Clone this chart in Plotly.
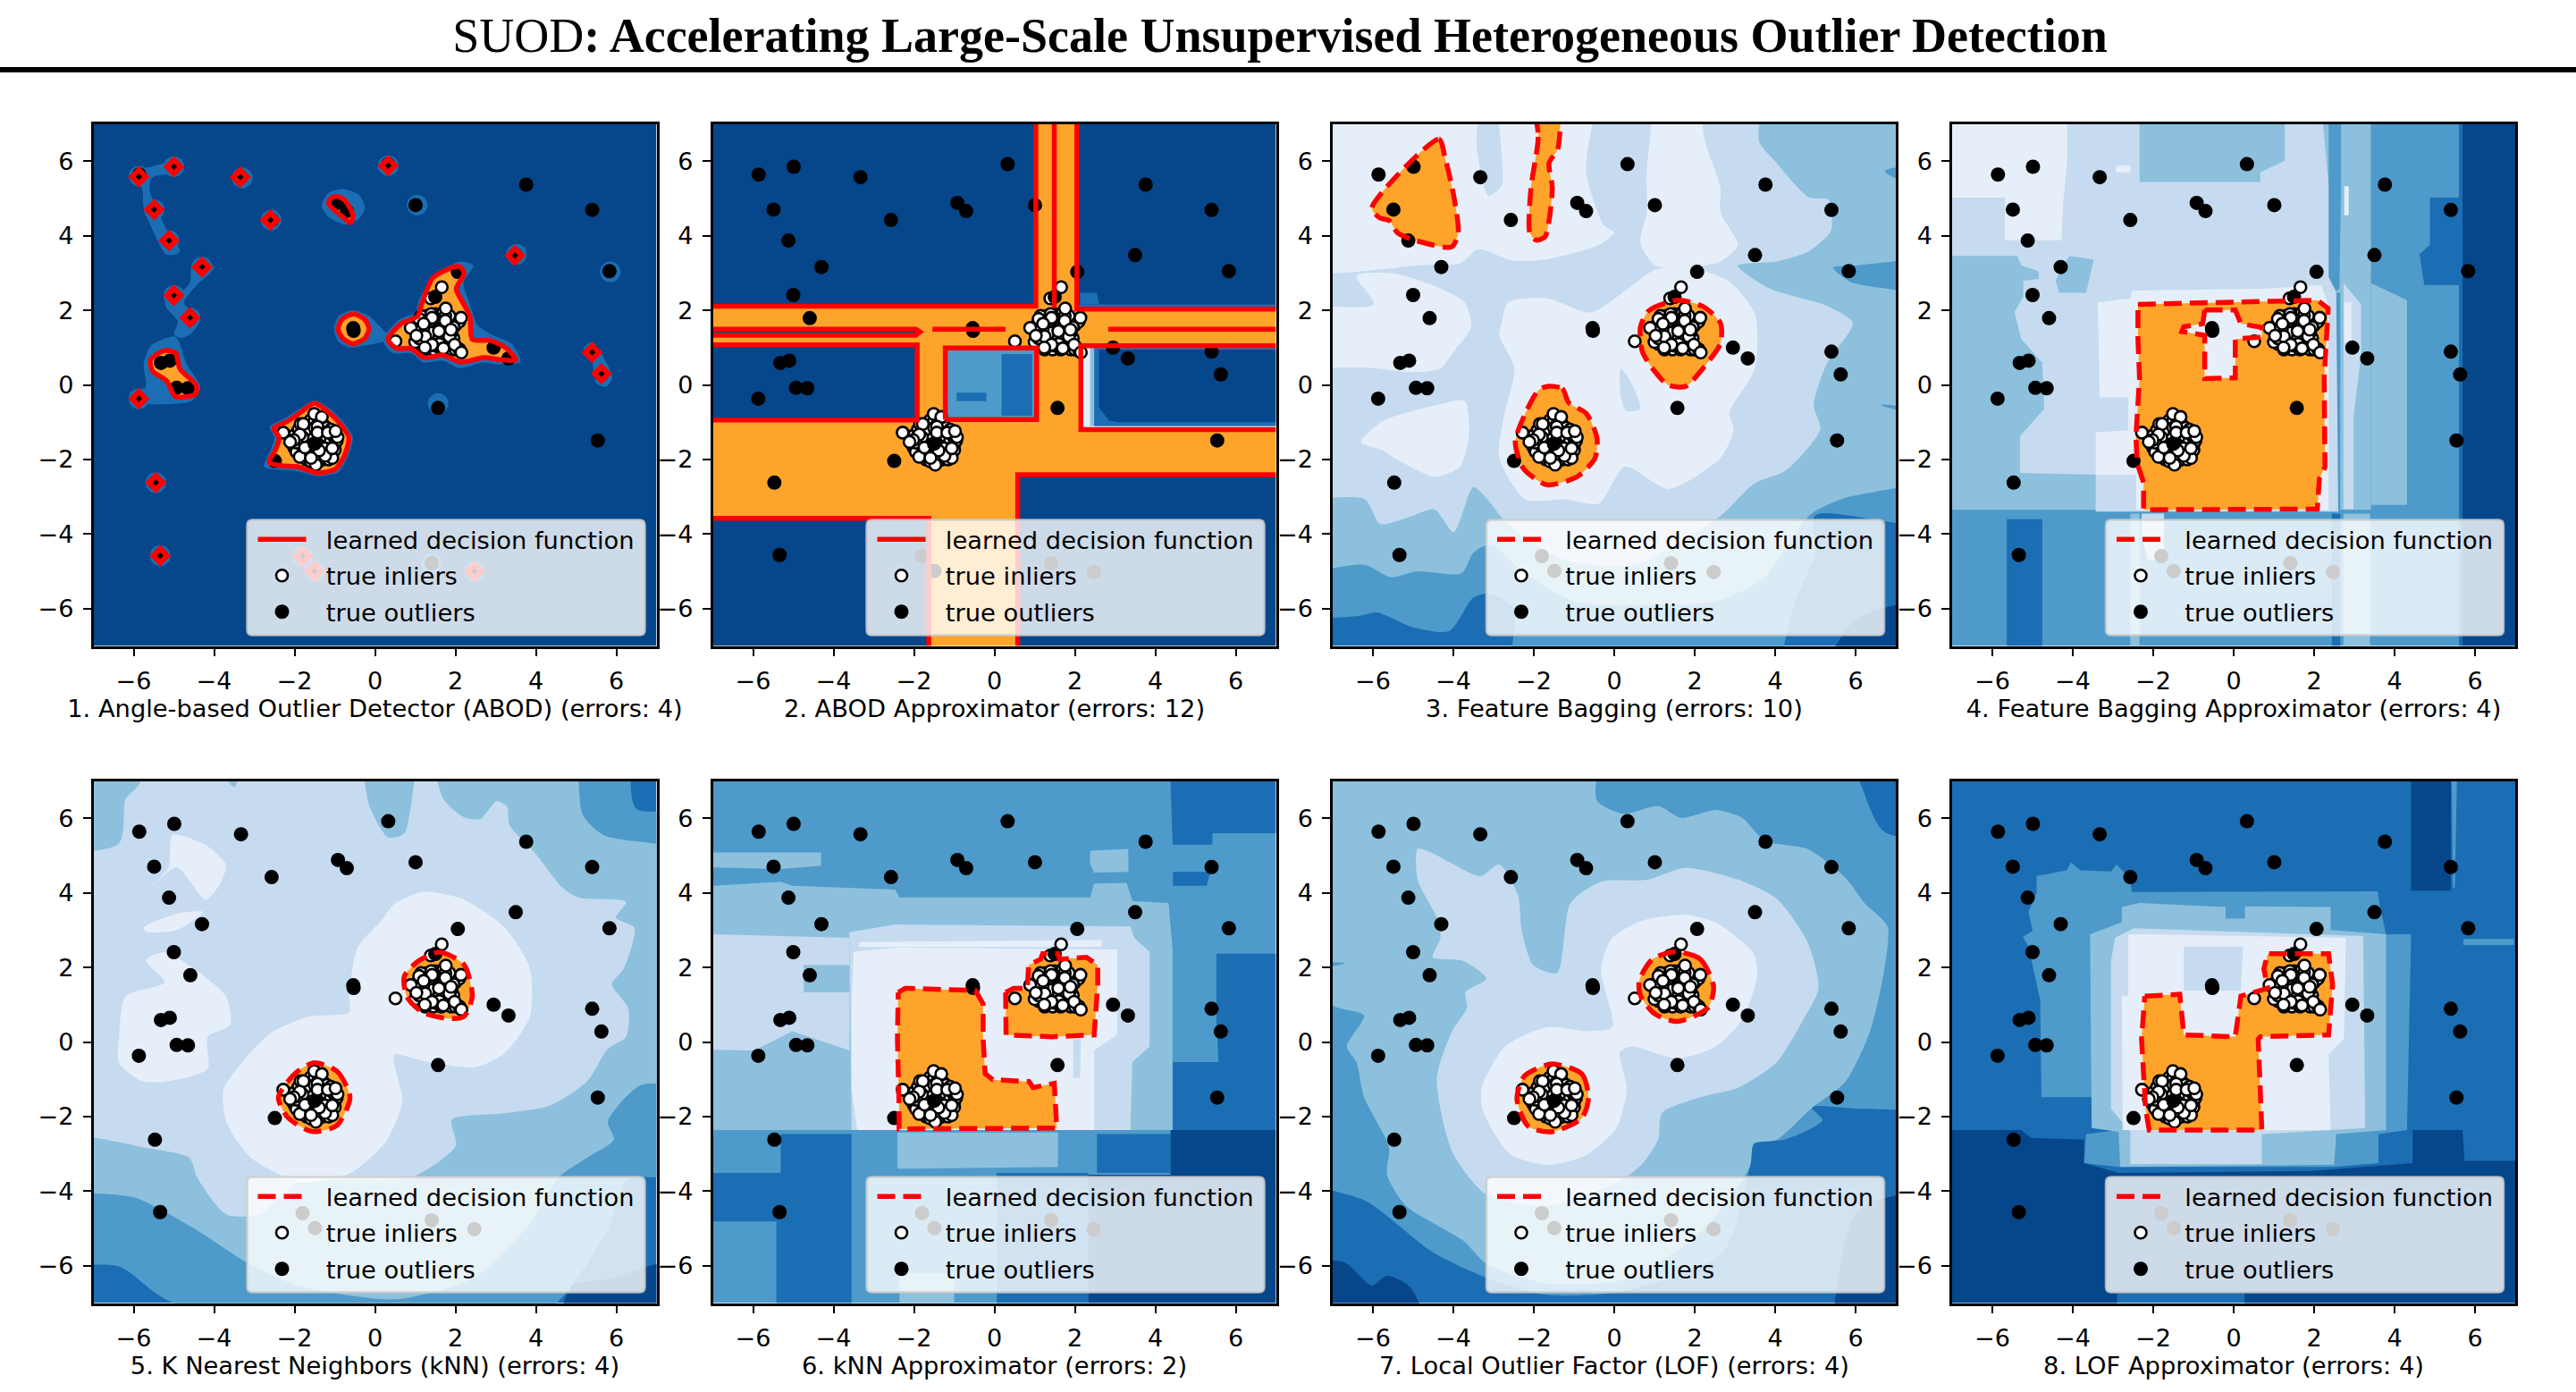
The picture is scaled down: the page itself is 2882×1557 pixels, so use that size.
import plotly.graph_objects as go

WIDTH, HEIGHT = 2882, 1557
TITLE_PLAIN = "SUOD"
TITLE_BOLD = ": Accelerating Large-Scale Unsupervised Heterogeneous Outlier Detection"
PANEL_TITLES = [
    "1. Angle-based Outlier Detector (ABOD) (errors: 4)",
    "2. ABOD Approximator (errors: 12)",
    "3. Feature Bagging (errors: 10)",
    "4. Feature Bagging Approximator (errors: 4)",
    "5. K Nearest Neighbors (kNN) (errors: 4)",
    "6. kNN Approximator (errors: 2)",
    "7. Local Outlier Factor (LOF) (errors: 4)",
    "8. LOF Approximator (errors: 4)",
]
TICKS = [-6, -4, -2, 0, 2, 4, 6]
FULL = [(-7, -7), (7, -7), (7, 7), (-7, 7)]

OUTLIERS = [
    (-5.86, 5.64), (-4.99, 5.85), (-3.33, 5.57), (0.33, 5.92), (-0.92, 4.88), (-0.70, 4.66), (1.01, 4.82),
    (3.76, 5.37), (5.40, 4.69), (-5.49, 4.70), (-2.57, 4.42), (-5.12, 3.87), (-4.30, 3.16), (3.50, 3.48),
    (5.83, 3.05), (2.06, 3.03), (-5.0, 2.41), (-4.59, 1.79), (-0.54, 1.52), (-0.53, 1.45), (-5.32, 0.59),
    (-5.10, 0.65), (-4.93, -0.08), (-4.65, -0.09), (-5.87, -0.37), (2.95, 1.0), (3.32, 0.71), (5.40, 0.89),
    (5.63, 0.28), (1.57, -0.62), (5.54, -1.49), (-2.49, -2.04), (-5.47, -2.62), (-5.34, -4.56), (-1.80, -4.59),
    (-1.49, -4.99), (1.41, -4.78), (2.47, -5.02), (1.5, 2.36), (-1.5, -1.58),
]
INLIERS_TOP = [
    (1.3, 1.5), (1.4, 1.6), (1.5, 1.45), (1.6, 1.55), (1.7, 1.4), (1.8, 1.6), (1.55, 1.25), (1.45, 1.15),
    (1.65, 1.2), (1.75, 1.05), (1.35, 1.2), (1.2, 1.2), (1.1, 1.1), (1.3, 1.85), (1.5, 1.9), (1.6, 1.75),
    (1.9, 1.7), (2.0, 1.6), (2.05, 1.75), (1.95, 1.25), (1.85, 1.15), (1.55, 1.0), (1.45, 0.95), (1.9, 0.95),
    (2.0, 0.95), (1.15, 1.45), (1.0, 1.15), (1.25, 1.7), (1.15, 1.85), (1.65, 1.85), (1.7, 1.95), (1.85, 1.85),
    (1.4, 1.4), (1.55, 1.65), (1.75, 1.3), (1.3, 1.05), (1.65, 0.95), (1.9, 1.4), (2.1, 1.7), (2.1, 0.95),
    (1.1, 1.25), (1.6, 1.3), (1.45, 1.75), (1.35, 1.7), (1.8, 1.5), (1.2, 1.5), (1.95, 1.55), (1.5, 1.05),
    (1.85, 1.3), (1.75, 1.85), (1.25, 0.95), (1.7, 1.7), (1.05, 1.6), (1.4, 1.9), (1.6, 1.1), (1.28, 1.72),
    (1.66, 2.62), (1.39, 2.32), (1.76, 2.05), (2.14, 1.80), (0.89, 1.53), (1.42, 1.80), (1.75, 1.72),
    (1.10, 1.77), (1.21, 1.64), (1.59, 1.44), (1.25, 1.30), (1.42, 1.08), (1.03, 1.32), (1.24, 1.0),
    (1.70, 0.98), (1.98, 1.08), (2.15, 0.87), (1.89, 1.48), (0.51, 1.17),
]
INLIERS_BOTTOM = [
    (-1.6, -1.2), (-1.5, -1.3), (-1.4, -1.4), (-1.3, -1.5), (-1.2, -1.6), (-1.6, -1.5), (-1.7, -1.4),
    (-1.5, -1.7), (-1.4, -1.8), (-1.3, -1.3), (-1.2, -1.4), (-1.1, -1.5), (-1.0, -1.6), (-1.7, -1.7),
    (-1.8, -1.6), (-1.9, -1.5), (-1.6, -1.9), (-1.5, -2.0), (-1.3, -2.0), (-1.2, -1.8), (-1.1, -1.8),
    (-2.0, -1.7), (-2.05, -1.6), (-1.95, -1.8), (-1.8, -1.85), (-1.7, -2.0), (-1.6, -2.05), (-1.4, -2.05),
    (-1.7, -1.1), (-1.6, -0.95), (-1.5, -0.95), (-1.4, -1.0), (-1.3, -1.05), (-1.2, -1.15), (-1.1, -1.2),
    (-1.05, -1.35), (-0.95, -1.5), (-1.0, -1.75), (-1.15, -2.0), (-2.0, -1.35), (-1.9, -1.2), (-1.85, -1.05),
    (-1.55, -1.6), (-1.45, -1.55), (-1.35, -1.65), (-1.25, -1.7), (-1.65, -1.3), (-1.75, -1.25), (-1.8, -1.4),
    (-1.95, -1.55), (-1.5, -1.15), (-1.4, -1.2),
    (-1.51, -0.78), (-1.32, -0.86), (-1.78, -1.05), (-2.28, -1.28), (-1.87, -1.33), (-0.93, -1.40),
    (-2.02, -1.48), (-2.11, -1.53), (-1.87, -1.93), (-1.47, -2.14), (-1.06, -1.96), (-1.24, -1.90),
    (-1.06, -1.70), (-1.43, -1.12), (-1.43, -1.28), (-1.17, -1.28), (-1.39, -1.76), (-1.59, -1.96),
    (-1.74, -1.68), (-0.98, -1.24),
]

# ---- panel 1: ABOD
P1_HALOS = [
    [(-6.05, 5.72), (-5.55, 5.85), (-4.9, 6.02), (-4.75, 5.85), (-5.05, 5.68), (-5.55, 5.55), (-5.6, 5.2), (-5.35, 4.55),
     (-5.1, 4.0), (-4.85, 3.6), (-4.95, 3.5), (-5.2, 3.5), (-5.35, 3.75), (-5.55, 4.2), (-5.75, 4.75), (-5.8, 5.3), (-6.05, 5.45)],
    [(-5.2, 2.45), (-5.0, 2.6), (-4.75, 2.55), (-4.6, 2.75), (-4.55, 3.25), (-4.3, 3.4), (-4.0, 3.15), (-4.25, 2.85),
     (-4.45, 2.65), (-4.75, 2.2), (-4.35, 1.75), (-4.55, 1.4), (-4.8, 1.25), (-5.0, 1.35), (-4.9, 1.7), (-5.2, 2.1)],
    [(-5.75, 0.55), (-5.58, 1.04), (-4.96, 1.29), (-4.68, 0.55), (-4.34, -0.06), (-4.56, -0.43), (-5.92, -0.49), (-6.1, -0.37), (-5.7, -0.06)],
    [(-0.8, 5.25), (-0.4, 5.1), (-0.25, 4.75), (-0.4, 4.45), (-0.75, 4.3), (-1.15, 4.5), (-1.33, 4.8), (-1.15, 5.15)],
    [(-0.55, 2.0), (-0.15, 1.85), (0.05, 1.65), (0.35, 1.25), (0.0, 1.1), (-0.3, 1.05), (-0.6, 1.0), (-0.9, 1.15), (-1.02, 1.5), (-0.9, 1.85)],
    [(1.5, 2.95), (2.1, 3.3), (2.45, 3.2), (2.2, 2.75), (2.35, 2.2), (2.55, 1.6), (2.9, 1.35), (3.4, 1.1), (3.62, 0.62),
     (3.1, 0.55), (2.7, 0.6), (2.1, 0.45), (1.7, 0.65), (1.2, 0.6), (0.9, 0.85), (0.45, 0.85), (0.2, 1.2), (0.6, 1.75), (1.0, 1.95), (1.1, 2.3)],
    [(-1.5, -0.42), (-1.1, -0.65), (-0.78, -1.0), (-0.55, -1.4), (-0.68, -1.95), (-0.92, -2.35), (-1.44, -2.45), (-1.9, -2.32),
     (-2.35, -2.28), (-2.75, -2.2), (-2.58, -1.7), (-2.5, -1.4), (-2.62, -1.12), (-2.25, -0.9), (-1.88, -0.65)],
    [(5.2, 1.0), (5.4, 1.15), (5.6, 0.9), (5.9, 0.2), (5.75, -0.05), (5.5, 0.05), (5.4, 0.6)],
]
P1_ORANGE = [
    [(0.32, 1.22), (0.66, 1.65), (1.06, 1.84), (1.17, 2.20), (1.45, 2.88), (2.08, 3.18), (2.22, 3.0), (2.02, 2.57), (2.19, 2.2),
     (2.36, 1.84), (2.42, 1.22), (2.87, 1.19), (3.27, 0.98), (3.5, 0.67), (3.16, 0.67), (2.7, 0.73), (2.13, 0.61), (1.68, 0.8),
     (1.23, 0.73), (0.89, 0.98), (0.54, 0.98)],
    [(-1.50, -0.49), (-1.16, -0.73), (-0.87, -1.04), (-0.65, -1.41), (-0.76, -1.90), (-0.99, -2.26), (-1.44, -2.36), (-1.90, -2.20),
     (-2.29, -2.17), (-2.63, -2.08), (-2.46, -1.71), (-2.38, -1.41), (-2.52, -1.16), (-2.18, -0.98), (-1.84, -0.73)],
    [(-5.58, 0.67), (-5.24, 0.92), (-4.96, 0.86), (-4.85, 0.43), (-4.45, 0), (-4.45, -0.24), (-4.96, -0.31), (-5.19, 0.12), (-5.53, 0.37)],
    [(-0.53, 1.9), (-0.25, 1.75), (-0.15, 1.5), (-0.25, 1.25), (-0.55, 1.1), (-0.8, 1.25), (-0.92, 1.5), (-0.8, 1.78)],
    [(-0.95, 5.05), (-0.75, 4.95), (-0.55, 4.55), (-0.6, 4.35), (-0.8, 4.5), (-1.15, 4.85), (-1.1, 5.0)],
]
P1_HALO_POINTS = [(-5.86, 5.6), (-5, 5.85), (-3.3, 5.55), (0.33, 5.88), (-5.49, 4.7), (-2.58, 4.42), (-5.12, 3.87), (-4.3, 3.16),
                  (3.52, 3.5), (-5, 2.4), (-4.6, 1.8), (-5.87, -0.37), (1.05, 4.82), (5.85, 3.03), (1.57, -0.5),
                  (-5.45, -2.62), (-5.34, -4.58), (-1.8, -4.6), (-1.5, -5.0), (1.41, -4.78), (2.47, -5.0)]
P1_DIAMONDS = [(-5.87, 5.58), (-5, 5.85), (-3.35, 5.57), (0.33, 5.88), (-5.49, 4.7), (-2.6, 4.42), (-5.12, 3.87), (-4.3, 3.16),
               (3.48, 3.47), (-5, 2.4), (-4.6, 1.8), (-5.87, -0.37), (-5.45, -2.62), (-5.34, -4.58), (5.4, 0.87), (5.63, 0.3),
               (-1.8, -4.6), (-1.5, -5.0), (2.47, -5.0)]

# ---- panel 2: ABOD approximator
P2_DARK = [
    [(-7, 2.11), (1.03, 2.11), (1.03, 7), (-7, 7)],
    [(-7, -0.94), (-1.92, -0.94), (-1.92, 1.07), (-7, 1.07)],
    [(-7, -7), (-1.63, -7), (-1.63, -3.58), (-7, -3.58)],
    [(2.05, 2.03), (7, 2.03), (7, 7), (2.05, 7)],
    [(0.58, -7), (7, -7), (7, -2.41), (0.58, -2.41)],
    [(-7, 1.33), (-1.95, 1.33), (-1.85, 1.42), (-1.95, 1.49), (-7, 1.49)],
]
P2_RIGHT_L6 = [[(2.15, -1.2), (7, -1.2), (7, 1.05), (2.15, 1.05)]]
P2_RIGHT_L4 = [[(2.38, -1.1), (7, -1.1), (7, 1.0), (2.38, 1.0)]]
P2_RIGHT_L2 = [[(2.48, -1.1), (7, -1.1), (7, 0.99), (2.48, 0.99)]]
P2_RIGHT_L1 = [[(2.85, -0.96), (3.1, -1.0), (7, -1.0), (7, 0.94), (2.6, 0.94), (2.6, -0.6)]]
P2_CORNER_L2 = [[(2.1, 2.16), (7, 2.16), (7, 2.05), (2.1, 2.05)], [(2.13, 2.16), (2.6, 2.16), (2.55, 2.47), (2.13, 2.47)]]
P2_CENTER_L3 = [[(-1.22, -0.93), (1.05, -0.93), (1.05, 0.99), (-1.22, 0.99)]]
P2_CENTER_L2 = [[(0.18, -0.83), (0.94, -0.83), (0.94, 0.83), (0.18, 0.83)], [(-0.94, -0.44), (-0.2, -0.44), (-0.2, -0.21), (-0.94, -0.21)]]
P2_RED = [
    [(-7, 2.11), (1.03, 2.11), (1.03, 7)],
    [(-7, 1.07), (-1.92, 1.07), (-1.92, -0.94), (-7, -0.94)],
    [(-7, -3.58), (-1.63, -3.58), (-1.63, -7)],
    [(2.05, 7), (2.05, 2.03), (7, 2.03)],
    [(7, 1.05), (2.15, 1.05), (2.15, -1.2), (7, -1.2)],
    [(0.58, -7), (0.58, -2.41), (7, -2.41)],
    [(-1.22, -0.93), (1.05, -0.93), (1.05, 0.99), (-1.22, 0.99), (-1.22, -0.93)],
    [(1.49, 7), (1.49, 2.06)],
    [(-7, 1.49), (-1.95, 1.49), (-1.85, 1.42), (-1.95, 1.33), (-7, 1.33)],
    [(-1.54, 1.49), (0.28, 1.49)],
    [(2.83, 1.49), (7, 1.49)],
]

# ---- panel 3: feature bagging
P3_L1 = [[(5.0, -7), (6.0, -6.3), (7, -5.8), (7, -7)]]
P3_L3 = [[(-7, -5.98), (-6.4, -6.2), (-5.9, -6.1), (-5, -6.5), (-4.1, -6.6), (-3.5, -5.7), (-3.1, -5.6), (-2.5, -6.0), (-2.5, -7),
          (3.6, -7), (4.5, -5.8), (5, -4.5), (5.0, -3.5), (7, -3.6), (7, 7), (-7, 7)]]
P3_L4 = [[(-7, -4.88), (-6.2, -4.83), (-5.55, -5.16), (-4.9, -5), (-3.8, -5.05), (-3.5, -4.5), (-3.05, -4.27), (-2.4, -4.9), (-1, -5.8),
          (1, -5.9), (2.5, -5.8), (3.7, -5.2), (4.85, -3.5), (5.65, -3.06), (7, -2.3), (6.95, -1.2), (6.63, -0.54), (7, -0.54), (7, 2.1),
          (5.87, 2.76), (5.44, 3.15), (5.98, 3.2), (7, 3.7), (7, 4.74), (6.73, 5.73), (7, 6.17), (6.63, 7), (-7, 7)]]
P3_L5 = [[(-7, -2.83), (-6.2, -3.07), (-5.82, -3.73), (-5.01, -3.51), (-4.47, -3.34), (-3.99, -3.95), (-3.5, -2.74), (-3.07, -3.18), (-2.75, -3.62),
          (-2.1, -4.22), (-1.13, -4.72), (0.48, -4.83), (2.64, -3.51), (3.5, -2.63), (4.26, -2.3), (5.12, -1.2), (4.96, -0.54), (5.28, 0.56),
          (5.93, 1.66), (5.33, 2.1), (3.83, 2.6), (3.07, 3.2), (4.04, 3.31), (4.85, 3.59), (5.39, 4.14), (5.33, 4.96), (4.85, 5.02), (4.47, 5.4),
          (4.04, 5.95), (3.61, 6.5), (3.5, 7), (-7, 7)]]
P3_L6 = [
    [(-7, 7), (-3.45, 7), (-3.42, 6.4), (-3.13, 5.07), (-2.8, 5.35), (-2.78, 7), (-0.48, 7), (-0.7, 5.73), (-0.27, 4.3), (0, 4.08), (-0.38, 3.75),
     (-1.67, 3.37), (-2.53, 3.33), (-3.39, 3.64), (-3.83, 3.26), (-4.69, 3.22), (-7, 3.2)],
    [(1.24, 7), (1.94, 7), (2.26, 6.5), (2.64, 5.29), (2.64, 4.63), (3.07, 3.75), (2.64, 3.31), (1.78, 3.15), (1.02, 3.2), (0.65, 3.81), (0.81, 4.63), (0.81, 5.73)],
    [(-2.8, 1.66), (-2.64, 2.21), (-1.67, 2.32), (-0.59, 1.94), (0.16, 2.43), (1.02, 3.09), (1.89, 3.15), (2.86, 2.76), (3.5, 1.89), (3.5, 0.45), (2.86, -0.76),
     (2.97, -1.2), (2.64, -1.96), (1.35, -2.79), (0.27, -2.19), (-0.38, -3.18), (-1.24, -3.07), (-2.21, -3.07), (-2.86, -1.96), (-2.75, -0.87), (-2.48, 0.45), (-2.86, 1.33)],
    [(-6.41, 2.93), (-5.44, 2.98), (-4.47, 2.65), (-3.72, 2.21), (-3.56, 1.55), (-3.99, 0.89), (-4.31, 0.45), (-4.9, 0.34), (-5.98, 0.45), (-6.95, 0.67), (-7, 2.0), (-5.98, 2.16)],
    [(-6.3, -1.53), (-5.77, -0.98), (-4.42, -0.54), (-3.72, -0.43), (-3.61, -1.31), (-3.83, -2.19), (-4.47, -2.46), (-5.44, -1.97), (-5.77, -1.75)],
]
P3_L5_ISLAND = [[(0.16, 0.45), (0.4, 0.1), (0.65, -0.65), (0.3, -0.7), (0.16, -0.3)]]
P3_ORANGE = [
    [(-6.03, 4.74), (-4.36, 6.59), (-4.2, 6.06), (-3.99, 5.07), (-3.88, 4.08), (-4.04, 3.7), (-4.9, 3.86), (-5.39, 4.08), (-5.6, 4.41), (-5.82, 4.47)],
    [(-2.07, 7.1), (-1.89, 6.65), (-2.07, 5.29), (-2.1, 4.08), (-1.94, 3.88), (-1.72, 3.97), (-1.62, 4.41), (-1.54, 5.29), (-1.62, 5.95), (-1.4, 6.34), (-1.45, 7.1)],
    [(0.65, 1.55), (0.86, 1.99), (1.56, 2.27), (2.21, 2.1), (2.64, 1.66), (2.64, 1.11), (2.21, 0.45), (1.78, -0.04), (1.35, -0.01), (1.02, 0.34), (0.7, 0.89)],
    [(-1.67, -0.04), (-1.29, -0.1), (-1.13, -0.48), (-0.7, -0.76), (-0.43, -1.42), (-0.48, -1.97), (-0.92, -2.46), (-1.67, -2.68), (-2.26, -2.24), (-2.46, -1.53), (-2.21, -0.76), (-1.89, -0.15)],
]

# ---- panel 4: feature bagging approximator
P4_L1 = [[(5.69, -7), (7, -7), (7, 7), (5.69, 7)]]
P4_L2 = [
    [(5.6, -7), (5.69, -7), (5.69, 7), (5.6, 7)],
    [(4.88, 5.02), (5.6, 5.02), (5.6, 2.68), (4.74, 2.68), (4.62, 3.5), (4.88, 3.76)],
    [(-5.64, -7), (-4.76, -7), (-4.76, -3.6), (-5.64, -3.6)],
    [(2.44, -7), (2.65, -7), (2.65, -3.45), (2.44, -3.45)],
]
P4_L4 = [
    [(-7, -3.35), (3.41, -3.35), (3.41, 7), (-7, 7)],
    [(3.41, 2.73), (4.31, 2.27), (4.31, -3.22), (3.41, -3.22)],
    [(3.12, 3.82), (3.41, 3.82), (3.41, 3.1), (3.12, 3.3)],
    [(-2.57, -3.45), (-2.34, -3.45), (-2.34, -7), (-2.57, -7)],
    [(2.73, -3.45), (3.39, -3.45), (3.39, -7), (2.73, -7)],
]
P4_L3_STRIPS = [
    [(2.36, 7), (2.67, 7), (2.67, 5.38), (2.63, 2.57), (2.55, 2.52), (2.36, 2.89), (2.36, 5.38)],
    [(2.53, 2.47), (2.65, 2.47), (2.65, -3.45), (2.53, -3.45)],
]
P4_L5 = [
    [(-7, 7), (-2.34, 7), (-2.34, 5.44), (0.66, 5.44), (0.66, 5.7), (1.27, 6.01), (1.27, 7), (2.22, 7), (2.36, 5.38), (2.36, 2.89), (2.55, 2.47), (2.6, -3.4),
     (-3.43, -3.4), (-3.43, -2.41), (-5.31, -2.36), (-5.31, -1.37), (-4.71, -0.64), (-4.76, 0.6), (-5.28, 1.23), (-5.45, 1.95), (-5.23, 2.37), (-5.23, 2.79),
     (-4.85, 2.84), (-4.85, 3.05), (-5.28, 3.2), (-5.38, 3.46), (-7, 3.46)],
    [(2.73, 2.73), (3.17, 2.16), (3.17, 0.81), (2.98, -0.85), (2.98, -3.33), (2.73, -3.33)],
    [(-2.29, -3.45), (-1.73, -3.45), (-1.73, -4.7), (-2.14, -4.7), (-2.29, -3.98)],
]
P4_L4_BLOCK = [[(-4.43, 2.79), (-4.09, 3.46), (-3.48, 3.36), (-3.67, 2.47), (-4.33, 2.47)]]
P4_L6 = [
    [(-7, 7), (-4.14, 7), (-4.14, 6.01), (-4.24, 4.87), (-4.28, 3.88), (-5.69, 3.88), (-5.69, 5.02), (-7, 5.02)],
    [(-2.92, 5.88), (-2.57, 5.88), (-2.57, 5.7), (-2.92, 5.7)],
    [(-3.38, 2.21), (-2.57, 2.32), (-2.52, 2.53), (0.75, 2.58), (2.17, 2.68), (2.36, 2.16), (2.36, -3.35), (-2.43, -3.35), (-2.43, -2.41), (-3.43, -2.41),
     (-3.43, -1.27), (-2.62, -1.22), (-2.62, -0.33), (-3.33, -0.33)],
    [(2.75, 2.21), (2.93, 2.21), (2.93, 1.12), (2.75, 1.12)],
    [(2.75, 5.33), (2.86, 5.33), (2.86, 4.55), (2.75, 4.55)],
]
P4_ORANGE = [[(-2.38, 2.16), (2.08, 2.27), (2.35, 2.05), (2.25, 0.19), (2.27, -2.2), (2.13, -2.52), (2.08, -3.33), (-2.24, -3.35), (-2.24, -2.62), (-2.40, -2.10), (-2.43, -1.37), (-2.34, 0.19), (-2.38, 1.23)]]
P4_HOLE = [[(-0.72, 2.01), (0.04, 2.01), (0.18, 1.64), (0.70, 1.54), (0.70, 1.28), (0.04, 1.23), (0.04, 0.19), (-0.72, 0.17), (-0.72, 1.33), (-1.29, 1.43), (-1.24, 1.56), (-0.77, 1.64)]]

# ---- panel 5: kNN
P5_L1 = [[(4.61, -7), (4.87, -6.56), (5.79, -6.35), (7, -5.7), (7, -7)]]
P5_L3 = [[(-7, 7), (6.09, 7), (6.5, 6.25), (7, 6.2), (7, -3.5), (6.3, -3.7), (5.8, -5.0), (4.61, -6.9), (2.2, -7), (-5.13, -6.94), (-6.36, -6.02), (-7, -5.75)]]
P5_L4 = [[(-7, 7), (4.72, 7), (5.17, 6.09), (5.68, 5.55), (7, 4.84), (7, -1.05), (6.6, -1.16), (5.79, -2.13), (5.94, -2.62), (5.28, -3.1), (4.56, -3.64), (3.9, -4.8),
          (2.5, -6.3), (0.5, -6.9), (-2, -6.5), (-3.2, -5.9), (-4.5, -5), (-5.95, -4.18), (-7, -3.64)]]
P5_L5 = [[(-6.97, 4.68), (-6.36, 5.33), (-6.2, 6.52), (-5.95, 6.79), (-4.62, 6.95), (-3.5, 6.84), (-3.09, 6.95), (-0.64, 7), (-0.13, 6.3), (0.33, 5.49), (0.73, 5.6), (1.19, 6.95),
          (1.7, 6.52), (2.21, 6.03), (2.62, 5.98), (3.03, 6.46), (3.29, 6.3), (3.34, 5.82), (3.95, 5.11), (4.66, 4.14), (5.07, 3.87), (6.24, 3.76), (5.99, 3.33), (6.45, 3.06),
          (6.19, 1.98), (5.89, 1.55), (6.3, 0.9), (6.24, 0.14), (5.79, -0.18), (5.28, -1.05), (4.36, -1.7), (3.23, -1.91), (1.91, -2.08), (2.01, -2.78), (0.89, -3.64), (-1.87, -3.75),
          (-2.89, -4.62), (-3.7, -4.62), (-4.42, -3.64), (-4.62, -3.1), (-5.95, -2.78), (-6.97, -1.91)]]
P5_L6 = [
    [(-0.64, 1.21), (-0.44, 2.51), (0.17, 3.27), (0.48, 3.7), (1.19, 4.03), (2.21, 3.82), (3.23, 3.06), (3.85, 1.98), (3.85, 0.68), (3.23, -0.29), (2.52, -0.67), (1.19, -0.51), (0.48, -0.35),
     (0.68, -1.59), (0.27, -2.67), (-0.64, -3.53), (-1.87, -3.75), (-3.09, -3.1), (-3.7, -2.13), (-3.76, -1.26), (-3.19, -0.4), (-2.58, 0.25), (-1.66, 0.68), (-0.64, 0.79)],
    [(-6.36, 0.14), (-6.2, 1.22), (-5.23, 1.6), (-5.69, 2.19), (-5.23, 2.41), (-4.52, 1.98), (-3.7, 1.22), (-3.6, 0.46), (-4.16, 0.14), (-4.16, -0.72), (-5.13, -1.05), (-5.8, -1.05), (-6.36, -0.56)],
    [(-5.03, 5.55), (-4.21, 5.28), (-3.7, 4.74), (-3.91, 4.14), (-4.21, 3.82), (-4.93, 4.68), (-5.59, 4.14), (-5.13, 4.68)],
    [(-5.77, 3.06), (-4.93, 3.44), (-4.27, 3.49), (-4.93, 3.0), (-5.65, 2.95)],
]
P5_ORANGE = [
    [(1.04, 2.14), (1.6, 2.41), (2.21, 2.08), (2.42, 1.22), (2.21, 0.68), (1.81, 0.63), (1.19, 0.79), (0.79, 1.22), (0.73, 1.76)],
    [(-1.51, -0.56), (-0.95, -0.78), (-0.62, -1.48), (-0.95, -2.24), (-1.56, -2.4), (-2.17, -2.02), (-2.4, -1.48), (-1.97, -0.83)],
]

# ---- panel 6: kNN approximator
P6_L2 = [
    [(4.38, 7), (7, 7), (7, 5.6), (5.42, 5.6), (5.42, 5.29), (4.43, 5.29)],
    [(4.44, 4.56), (5.37, 4.56), (5.28, 4.19), (4.44, 4.19)],
    [(5.52, 2.37), (7, 2.37), (7, -2.36), (4.43, -2.36), (4.43, -0.54), (5.57, -0.54), (5.52, 0.6)],
    [(-7, -3.51), (-5.31, -3.51), (-5.31, -2.47), (-3.55, -2.47), (-3.55, -7), (-5.42, -7), (-5.42, -4.81), (-7, -4.81)],
    [(2.55, -2.47), (4.38, -2.47), (4.38, -3.51), (2.55, -3.51)],
    [(0.06, -3.51), (2.34, -3.51), (2.34, -7), (0.06, -7)],
]
P6_L1 = [[(4.38, -2.36), (7, -2.36), (7, -7), (2.34, -7), (2.34, -3.56), (4.38, -3.56)]]
P6_L4 = [
    [(-2.41, -2.43), (1.58, -2.43), (1.58, -3.35), (-2.41, -3.4)],
    [(-2.36, -6.2), (-1, -6.2), (-1, -7), (-2.36, -7)],
    [(-7, 5.08), (-4.31, 5.08), (-4.31, 4.72), (-5.31, 4.64), (-7, 4.68)],
    [(2.38, 5.13), (3.33, 5.18), (3.33, 4.56), (2.48, 4.54), (2.38, 4.77)],
    [(-7, 4.19), (-5.31, 4.3), (-5.03, 4.19), (-2.46, 4.09), (-2.36, 3.88), (2.38, 3.88), (2.48, 4.25), (3.29, 4.27), (3.43, 3.78), (4.33, 3.73), (4.43, 2.48), (4.43, -2.36), (-7, -2.36)],
]
P6_L5 = [
    [(-7, 2.89), (-3.6, 2.79), (-3.6, -0.23), (-5.02, 0.29), (-5.97, -0.23), (-7, -0.21)],
    [(-3.6, 2.94), (-2.46, 3.15), (3.38, 3.1), (3.48, 2.79), (3.86, 2.42), (3.86, -0.12), (3.43, -0.54), (3.38, -2.36), (-3.55, -2.36)],
]
P6_L4_BLOCK = [[(-4.74, 2.06), (-3.6, 2.06), (-3.6, 1.33), (-4.74, 1.33)]]
P6_L6 = [
    [(-3.5, 2.42), (-2.46, 2.53), (3.05, 2.48), (3.05, 0.19), (2.48, -0.23), (2.48, -2.36), (-3.41, -2.36), (-3.55, -1.27), (-3.55, 1.12)],
    [(-3.36, 2.68), (2.67, 2.73), (2.67, 2.55), (-3.36, 2.55)],
]
P6_L5_BAR = [[(1.96, 0.08), (2.15, 0.08), (2.13, -0.96), (1.96, -0.96)]]
P6_ORANGE = [
    [(-2.39, 1.33), (-2.22, 1.44), (-0.47, 1.38), (-0.28, 1.02), (-0.28, 0.08), (-0.23, -0.85), (-0.04, -1.01), (0.86, -1.06), (0.96, -1.22), (1.49, -1.11), (1.55, -2.31), (-2.37, -2.33), (-2.37, -1.69), (-2.41, 0.08)],
    [(0.28, 1.33), (0.48, 1.44), (0.82, 1.44), (0.85, 2.06), (1.15, 2.22), (1.2, 2.37), (1.58, 2.37), (1.62, 2.22), (2.29, 2.27), (2.57, 2.06), (2.57, 1.54), (2.48, 0.19), (1.43, 0.14), (0.29, 0.19)],
]

# ---- panel 7: LOF
P7_L1 = [
    [(-7, -6.06), (-6.74, -5.9), (-6.03, -6.53), (-5.65, -6.27), (-5.07, -6.58), (-4.5, -7), (-7, -7)],
    [(5.56, -7), (5.93, -4.7), (6.41, -4.29), (7, -4.08), (7, -7)],
]
P7_L3 = [[(-7, 7), (5.27, 7), (6.7, 5.65), (6.98, 5.13), (7, -1.58), (6.22, -1.79), (4.89, -1.74), (5.18, -2.1), (4.23, -2.62), (3.47, -2.73), (3.37, -3.35), (2.7, -5.64), (0.24, -6.68), (-1.66, -6.78), (-3.18, -6.32), (-4.51, -5.64), (-6.13, -4.29), (-7, -3.25)]]
P7_L4 = [[(-7, 7), (-0.47, 7), (-0.43, 6.48), (0.24, 6.12), (1.09, 6.33), (1.66, 6.01), (2.52, 6.22), (3.18, 6.01), (3.75, 5.39), (4.8, 5.18), (5.75, 4.4), (6.22, 3.73), (6.79, 3.1), (6.7, 1.85), (6.36, 0.29), (5.75, -1.06), (4.89, -1.79),
          (4.04, -2.62), (3.47, -2.73), (3.37, -3.35), (2.14, -5.12), (0.24, -6.37), (-1.66, -6.47), (-3.18, -5.95), (-3.75, -5.33), (-5.18, -4.39), (-5.65, -3.56), (-5.6, -2.83), (-6.22, -1.48), (-6.41, -0.54), (-6.65, -0.12), (-6.22, 0.71), (-6.88, 0.92), (-7, 1.75), (-6.7, 2.11), (-7, 2.37)]]
P7_L5 = [[(-4.89, 5.18), (-4.56, 5.08), (-4.09, 4.82), (-3.33, 4.45), (-2.86, 4.76), (-2.39, 3.93), (-2.3, 2.99), (-2.01, 2.06), (-1.42, 1.85), (-1.09, 3.72), (-0.33, 4.3), (0.81, 4.35), (1.76, 4.67), (3.09, 4.35), (4.04, 3.84), (4.8, 2.69), (5.08, 1.44), (4.7, 0.6), (4.04, -0.54), (3.09, -1.22), (2.14, -1.48),
          (1.19, -1.9), (1.09, -2.62), (0.71, -3.25), (0.24, -3.66), (-1.66, -4.4), (-3.18, -4.09), (-4.03, -2.94), (-4.41, -0.96), (-4.03, 0.29), (-3.66, 0.92), (-3.7, 1.33), (-3.18, 1.7), (-3.75, 2.17), (-4.51, 2.27), (-4.32, 2.79), (-4.41, 3.32), (-4.89, 4.36)]]
P7_L6 = [[(-0.33, 1.96), (-0.05, 2.79), (0.71, 3.26), (1.76, 3.41), (2.52, 3.2), (3.47, 2.37), (3.55, 1.75), (3.18, 0.6), (2.52, -0.12), (1.57, -0.44), (0.43, -0.12), (0.14, -0.28), (0.31, -1.27), (0.05, -2.31), (-0.71, -3.04), (-1.66, -3.3), (-2.61, -2.99), (-3.28, -1.79), (-3.28, -1.17), (-2.71, -0.12), (-1.66, 0.4), (-0.71, 0.29), (-0.05, 0.4)]]
P7_ORANGE = [
    [(1.52, 2.42), (2.14, 2.22), (2.47, 1.49), (2.33, 0.92), (1.57, 0.55), (1.0, 0.76), (0.66, 1.23), (0.62, 1.64), (0.95, 2.22)],
    [(-1.55, -0.59), (-0.81, -0.85), (-0.64, -1.48), (-0.81, -2.05), (-1.57, -2.41), (-2.14, -2.26), (-2.42, -1.53), (-2.23, -0.91)],
]

# ---- panel 8: LOF approximator
P8_L1 = [
    [(-7, -2.36), (-5.28, -2.36), (-5.04, -2.57), (-3.72, -2.62), (-3.72, -3.25), (-2.86, -3.51), (1.94, -3.46), (4.45, -3.25), (4.45, -2.36), (5.69, -2.36), (5.74, -3.19), (7, -3.19), (7, -7), (0.27, -7), (0.27, -6.74), (-2.9, -6.74), (-2.9, -7), (-7, -7)],
    [(4.41, 7), (5.4, 7), (5.4, 4.06), (4.41, 4.06)],
]
P8_L3 = [
    [(5.42, 7), (5.55, 7), (5.5, 4.14), (5.45, 4.14)],
    [(5.71, 2.76), (6.97, 2.76), (6.97, 2.6), (5.71, 2.6)],
    [(-4.9, 4.45), (-4.15, 4.6), (-4.05, 4.82), (-3.81, 4.6), (-3.05, 4.57), (-2.91, 4.76), (-2.58, 4.4), (-2.53, 4.02), (3.58, 4.04), (3.64, 3.62), (3.79, 2.89), (4.41, 2.89), (4.41, 2.79), (4.31, -2.36), (3.6, -2.47), (3.6, -3.25),
     (2.46, -3.35), (-2.86, -3.35), (-3.72, -3.25), (-3.67, -2.47), (-2.86, -2.36), (-2.86, -1.48), (-4.78, -1.48), (-4.81, 1.12), (-5.1, 2.56), (-5.24, 2.82), (-5.0, 2.98), (-5.1, 3.5), (-4.9, 4.0)],
]
P8_L4 = [[(-2.78, 3.62), (-2.34, 3.73), (-0.2, 3.62), (-0.2, 3.31), (0.28, 3.31), (0.28, 3.64), (2.41, 3.62), (2.41, 3.0), (3.79, 2.89), (3.79, -2.36), (2.55, -2.47), (2.5, -3.29), (-2.82, -3.35), (-2.86, -2.41), (-3.53, -2.31), (-3.57, 2.89), (-2.78, 3.21)]]
P8_L5 = [[(-2.95, 2.79), (-2.48, 3.05), (3.22, 2.84), (3.27, -2.31), (0.7, -2.47), (0.7, -3.27), (-2.57, -3.27), (-2.57, -2.41), (-3.05, -1.79), (-3.05, 2.17)]]
P8_L6 = [[(-2.62, 2.89), (-2.19, 2.89), (2.79, 2.79), (2.74, 0.08), (2.36, -0.33), (2.41, -2.36), (-2.76, -2.36), (-2.78, 1.23), (-2.62, 1.23)]]
P8_L5_PATCH = [[(-1.24, 2.56), (0.23, 2.56), (0.18, 1.38), (-1.24, 1.38)]]
P8_ORANGE = [[(-2.21, 1.23), (-1.34, 1.28), (-1.24, 0.19), (0.04, 0.14), (0.18, 1.23), (0.85, 1.44), (0.75, 1.96), (0.85, 2.37), (2.36, 2.37), (2.46, 1.54), (2.36, 0.19), (0.66, 0.14), (0.61, 0.08), (0.7, -2.36), (-2.1, -2.36), (-2.19, -1.79), (-2.29, 0.08)]]

COLORS = {"L1": "#06468b", "L2": "#1b6eb3", "L3": "#4e9aca", "L4": "#8cc0dd", "L5": "#c6dbef", "L6": "#e6eff9", "O": "#ffa42b"}
LEFTS = [104.5, 797.5, 1491, 2184]
TOPS = [138.5, 873.5]
PANEL_W, PANEL_H = 630, 584
DASH = "20px,9px"
NB = "\u00a0\u00a0"


def closed(poly):
    return list(poly) + [poly[0]]


def pad(points, smooth):
    # points on the frame are pushed past it so a curved outline cannot pull away from the frame
    if not smooth:
        return points
    def out(v):
        return 8.5 if v >= 6.95 else (-8.5 if v <= -6.95 else v)
    return [(out(a), out(b)) for a, b in points]


PANELS = [
    dict(layers=[("L1", [FULL]), ("L2", P1_HALOS), ("HP", None), ("O", P1_ORANGE)], red=[closed(p) for p in P1_ORANGE], dash="solid", smooth=True),
    dict(layers=[("O", [FULL]), ("L1", P2_DARK), ("L6", P2_RIGHT_L6), ("L4", P2_RIGHT_L4), ("L2", P2_RIGHT_L2), ("L1", P2_RIGHT_L1), ("L2", P2_CORNER_L2),
                 ("L3", P2_CENTER_L3), ("L2", P2_CENTER_L2)], red=P2_RED, dash="solid", smooth=False),
    dict(layers=[("L2", [FULL]), ("L1", P3_L1), ("L3", P3_L3), ("L4", P3_L4), ("L5", P3_L5), ("L6", P3_L6), ("L5", P3_L5_ISLAND), ("O", P3_ORANGE)],
         red=[closed(p) for p in P3_ORANGE], dash=DASH, smooth=True),
    dict(layers=[("L3", [FULL]), ("L1", P4_L1), ("L2", P4_L2), ("L4", P4_L4), ("L3", P4_L3_STRIPS), ("L5", P4_L5), ("L4", P4_L4_BLOCK), ("L6", P4_L6), ("O", P4_ORANGE), ("L6", P4_HOLE)],
         red=[closed(p) for p in P4_ORANGE + P4_HOLE], dash=DASH, smooth=False),
    dict(layers=[("L2", [FULL]), ("L1", P5_L1), ("L3", P5_L3), ("L4", P5_L4), ("L5", P5_L5), ("L6", P5_L6), ("O", P5_ORANGE)],
         red=[closed(p) for p in P5_ORANGE], dash=DASH, smooth=True),
    dict(layers=[("L3", [FULL]), ("L2", P6_L2), ("L1", P6_L1), ("L4", P6_L4), ("L5", P6_L5), ("L4", P6_L4_BLOCK), ("L6", P6_L6), ("L5", P6_L5_BAR), ("O", P6_ORANGE)],
         red=[closed(p) for p in P6_ORANGE], dash=DASH, smooth=False),
    dict(layers=[("L2", [FULL]), ("L1", P7_L1), ("L3", P7_L3), ("L4", P7_L4), ("L5", P7_L5), ("L6", P7_L6), ("O", P7_ORANGE)],
         red=[closed(p) for p in P7_ORANGE], dash=DASH, smooth=True),
    dict(layers=[("L2", [FULL]), ("L1", P8_L1), ("L3", P8_L3), ("L4", P8_L4), ("L5", P8_L5), ("L6", P8_L6), ("L5", P8_L5_PATCH), ("O", P8_ORANGE)],
         red=[closed(p) for p in P8_ORANGE], dash=DASH, smooth=False),
]

fig = go.Figure()
layout = dict(
    width=WIDTH, height=HEIGHT, margin=dict(l=0, r=0, t=0, b=0), paper_bgcolor="white", plot_bgcolor="white",
    font=dict(family="DejaVu Sans", color="black", size=26), hovermode=False,
    title=dict(text=f"{TITLE_PLAIN}<b>{TITLE_BOLD}</b>", x=1432 / WIDTH, xanchor="center", y=1 - 39.5 / HEIGHT, yanchor="middle",
               font=dict(family="Liberation Serif", size=54, color="black")),
    shapes=[dict(type="line", xref="paper", yref="paper", x0=0, x1=1, y0=1 - 78 / HEIGHT, y1=1 - 78 / HEIGHT, line=dict(color="black", width=6))],
)


def rounded_box(x0, y0, x1, y1, r=6):
    fx = lambda v: v / WIDTH
    fy = lambda v: 1 - v / HEIGHT
    return (f"M {fx(x0 + r)} {fy(y0)} L {fx(x1 - r)} {fy(y0)} Q {fx(x1)} {fy(y0)} {fx(x1)} {fy(y0 + r)} "
            f"L {fx(x1)} {fy(y1 - r)} Q {fx(x1)} {fy(y1)} {fx(x1 - r)} {fy(y1)} L {fx(x0 + r)} {fy(y1)} "
            f"Q {fx(x0)} {fy(y1)} {fx(x0)} {fy(y1 - r)} L {fx(x0)} {fy(y0 + r)} Q {fx(x0)} {fy(y0)} {fx(x0 + r)} {fy(y0)} Z")


for i, panel in enumerate(PANELS):
    n = "" if i == 0 else str(i + 1)
    left = LEFTS[i % 4]
    top = TOPS[i // 4]
    xa, ya = f"x{n}", f"y{n}"
    lg = f"legend{n}"
    smooth = panel["smooth"]
    shape = dict(shape="spline", smoothing=0.7) if smooth else dict(shape="linear")
    axis = dict(range=[-7, 7], tickmode="array", tickvals=TICKS, showgrid=False, zeroline=False, showline=True, mirror=True,
                linecolor="black", linewidth=2.5, ticks="outside", ticklen=9, tickwidth=2, tickcolor="black",
                tickfont=dict(family="DejaVu Sans", size=27, color="black"))
    layout[f"xaxis{n}"] = dict(axis, domain=[left / WIDTH, (left + PANEL_W) / WIDTH], anchor=ya, ticklabelstandoff=4,
                               title=dict(text=PANEL_TITLES[i], font=dict(family="DejaVu Sans", size=27.3, color="black"), standoff=6))
    layout[f"yaxis{n}"] = dict(axis, domain=[1 - (top + PANEL_H) / HEIGHT, 1 - top / HEIGHT], anchor=xa, ticklabelstandoff=5)

    for key, polys in panel["layers"]:
        if key == "HP":
            fig.add_trace(go.Scatter(x=[p[0] for p in P1_HALO_POINTS], y=[p[1] for p in P1_HALO_POINTS], mode="markers",
                                     marker=dict(color=COLORS["L2"], size=23), xaxis=xa, yaxis=ya, showlegend=False, hoverinfo="skip"))
            continue
        for poly in polys:
            use_shape = shape if poly is not FULL else dict(shape="linear")
            pts = closed(pad(poly, smooth and poly is not FULL))
            fig.add_trace(go.Scatter(x=[p[0] for p in pts], y=[p[1] for p in pts], mode="lines", fill="toself", fillcolor=COLORS[key],
                                     line=dict(width=0, color=COLORS[key], **use_shape), xaxis=xa, yaxis=ya, showlegend=False, hoverinfo="skip"))

    all_in = INLIERS_TOP + INLIERS_BOTTOM
    fig.add_trace(go.Scatter(x=[p[0] for p in all_in], y=[p[1] for p in all_in], mode="markers", name=NB + "true inliers",
                             marker=dict(color="white", size=13, line=dict(color="black", width=2.6)),
                             xaxis=xa, yaxis=ya, legend=lg, legendgroup="b", legendrank=2, hoverinfo="skip"))
    fig.add_trace(go.Scatter(x=[p[0] for p in OUTLIERS], y=[p[1] for p in OUTLIERS], mode="markers", name=NB + "true outliers",
                             marker=dict(color="black", size=16), xaxis=xa, yaxis=ya, legend=lg, legendgroup="c", legendrank=3, hoverinfo="skip"))
    rx, ry = [], []
    for path in panel["red"]:
        path = pad(path, smooth)
        rx += [p[0] for p in path] + [None]
        ry += [p[1] for p in path] + [None]
    fig.add_trace(go.Scatter(x=rx, y=ry, mode="lines", name=NB + "learned decision function",
                             line=dict(color="#ff0000", width=5.5, dash=panel["dash"], **shape), xaxis=xa, yaxis=ya, legend=lg, legendgroup="a", legendrank=1, hoverinfo="skip"))
    if i == 0:
        fig.add_trace(go.Scatter(x=[p[0] for p in P1_DIAMONDS], y=[p[1] for p in P1_DIAMONDS], mode="markers",
                                 marker=dict(symbol="diamond-open", color="#ff0000", size=12, line=dict(color="#ff0000", width=6)),
                                 xaxis=xa, yaxis=ya, showlegend=False, hoverinfo="skip"))

    bx0, bx1 = left + PANEL_W - 458, left + PANEL_W - 13
    by0, by1 = top + PANEL_H - 141, top + PANEL_H - 12
    layout["shapes"].append(dict(type="path", xref="paper", yref="paper", layer="above", path=rounded_box(bx0, by0, bx1, by1),
                                 fillcolor="rgba(255,255,255,0.8)", line=dict(color="rgba(204,204,204,0.8)", width=2.5)))
    layout[lg] = dict(x=(bx0 + 7) / WIDTH, y=1 - (by0 - 2.5) / HEIGHT, xanchor="left", yanchor="top", bgcolor="rgba(0,0,0,0)", borderwidth=0,
                      itemwidth=54, font=dict(family="DejaVu Sans", size=27.3, color="black"), traceorder="grouped", tracegroupgap=2,
                      itemclick=False, itemdoubleclick=False)

fig.update_layout(**layout)
fig.write_html("out.html", config={"displayModeBar": False}, post_script="document.body.style.margin='0';document.body.style.overflow='hidden';")
